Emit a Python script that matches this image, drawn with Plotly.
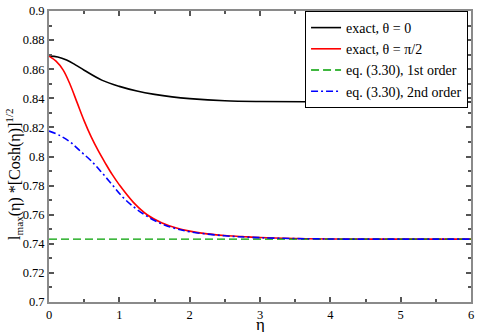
import plotly.graph_objects as go

# values
eta_exact0 = [0, 0.125, 0.25, 0.375, 0.5, 0.75, 1.0, 1.25, 1.5, 1.75, 2.0, 2.5, 3.0,
              4.0, 5.0, 6.0]
lmax_exact0 = [0.869, 0.8684, 0.8663, 0.863, 0.8593, 0.8525, 0.8482, 0.845, 0.8427,
               0.841, 0.8398, 0.8383, 0.8378, 0.8376, 0.8375, 0.8375]

eta_exact_pi2 = [0, 0.1, 0.2, 0.3, 0.4, 0.5, 0.6, 0.7, 0.8, 0.9, 1.0, 1.2, 1.4, 1.6,
                 1.8, 2.0, 2.25, 2.5, 2.75, 3.0, 3.5, 4.0, 5.0, 6.0]
lmax_exact_pi2 = [0.869, 0.8655, 0.8595, 0.8495, 0.837, 0.8245, 0.8135, 0.804, 0.7955,
                  0.7875, 0.7805, 0.7685, 0.7598, 0.7545, 0.751, 0.7487, 0.7468, 0.7457,
                  0.745, 0.7443, 0.7436, 0.7433, 0.7432, 0.7432]

eta_first = [0, 6.0]
lmax_first = [0.7432, 0.7432]

eta_second = [0, 0.15, 0.3, 0.45, 0.6, 0.75, 0.9, 1.05, 1.2, 1.35, 1.5, 1.65, 1.8,
              2.0, 2.5, 3.0, 4.0, 5.0, 6.0]
lmax_second = [0.8175, 0.8145, 0.81, 0.8035, 0.797, 0.789, 0.7805, 0.772, 0.7655,
               0.7603, 0.756, 0.7528, 0.7505, 0.7483, 0.7455, 0.7442, 0.7433, 0.7432,
               0.7432]

x_ticks = [0, 1, 2, 3, 4, 5, 6]
y_ticks = [0.7, 0.72, 0.74, 0.76, 0.78, 0.8, 0.82, 0.84, 0.86, 0.88, 0.9]
y_tick_labels = ["0.7", "0.72", "0.74", "0.76", "0.78", "0.8", "0.82", "0.84",
                 "0.86", "0.88", "0.9"]

serif = "Liberation Serif"

fig = go.Figure()

fig.add_trace(go.Scatter(x=eta_exact0, y=lmax_exact0, mode="lines",
                         name="exact, θ = 0",
                         line=dict(color="black", width=1.6, shape="spline")))
fig.add_trace(go.Scatter(x=eta_exact_pi2, y=lmax_exact_pi2, mode="lines",
                         name="exact, θ = π/2",
                         line=dict(color="#ff0000", width=1.6, shape="spline")))
fig.add_trace(go.Scatter(x=eta_first, y=lmax_first, mode="lines",
                         name="eq. (3.30), 1st order",
                         line=dict(color="#00a000", width=1.4, dash="8px,4px")))
fig.add_trace(go.Scatter(x=eta_second, y=lmax_second, mode="lines",
                         name="eq. (3.30), 2nd order",
                         line=dict(color="#0000ff", width=1.6, dash="7px,3px,2px,3px",
                                   shape="spline")))

axis_common = dict(
    showline=True, linecolor="#8a8a8a", linewidth=2, mirror="ticks",
    ticks="inside", ticklen=5, tickwidth=1.5, tickcolor="#555555",
    showgrid=False, zeroline=False, ticklabeloverflow="allow",
    tickfont=dict(family=serif, size=12.5, color="black"),
)

fig.update_xaxes(
    range=[0, 6], tickvals=x_ticks, ticktext=[str(v) for v in x_ticks],
    minor=dict(ticks="inside", ticklen=3, dtick=0.5, tickcolor="#555555", showgrid=False),
    **axis_common,
)
fig.update_yaxes(
    range=[0.7, 0.9], tickvals=y_ticks, ticktext=y_tick_labels,
    minor=dict(ticks="inside", ticklen=3, dtick=0.01, tickcolor="#555555", showgrid=False),
    **axis_common,
)

# axis titles placed by hand so they sit where the reference has them
fig.add_annotation(text="η", xref="paper", yref="paper", x=0.5, y=0,
                   yanchor="middle", yshift=-22, height=16, valign="middle",
                   showarrow=False,
                   font=dict(family=serif, size=17, color="black"))
fig.add_annotation(text="l<sub>max</sub>(η) *[Cosh(η)]<sup>1/2</sup>",
                   xref="paper", yref="paper", x=0, y=0.44, xshift=-35,
                   xanchor="center", yanchor="middle", textangle=-90,
                   showarrow=False,
                   font=dict(family=serif, size=16, color="black"))

fig.update_layout(
    width=478, height=332,
    margin=dict(l=49, r=4, t=5, b=30),
    paper_bgcolor="white", plot_bgcolor="white",
    font=dict(family=serif, size=13, color="black"),
    legend=dict(x=0.993, y=1.0, xanchor="right", yanchor="top",
                bgcolor="white", bordercolor="black", borderwidth=1,
                font=dict(family=serif, size=14), tracegroupgap=0,
                itemwidth=30),
    showlegend=True,
)

# drop the default page margin so the figure sits at the window corner
fig.write_html("out.html", config={"displayModeBar": False},
               post_script="document.body.style.margin = '0';")
